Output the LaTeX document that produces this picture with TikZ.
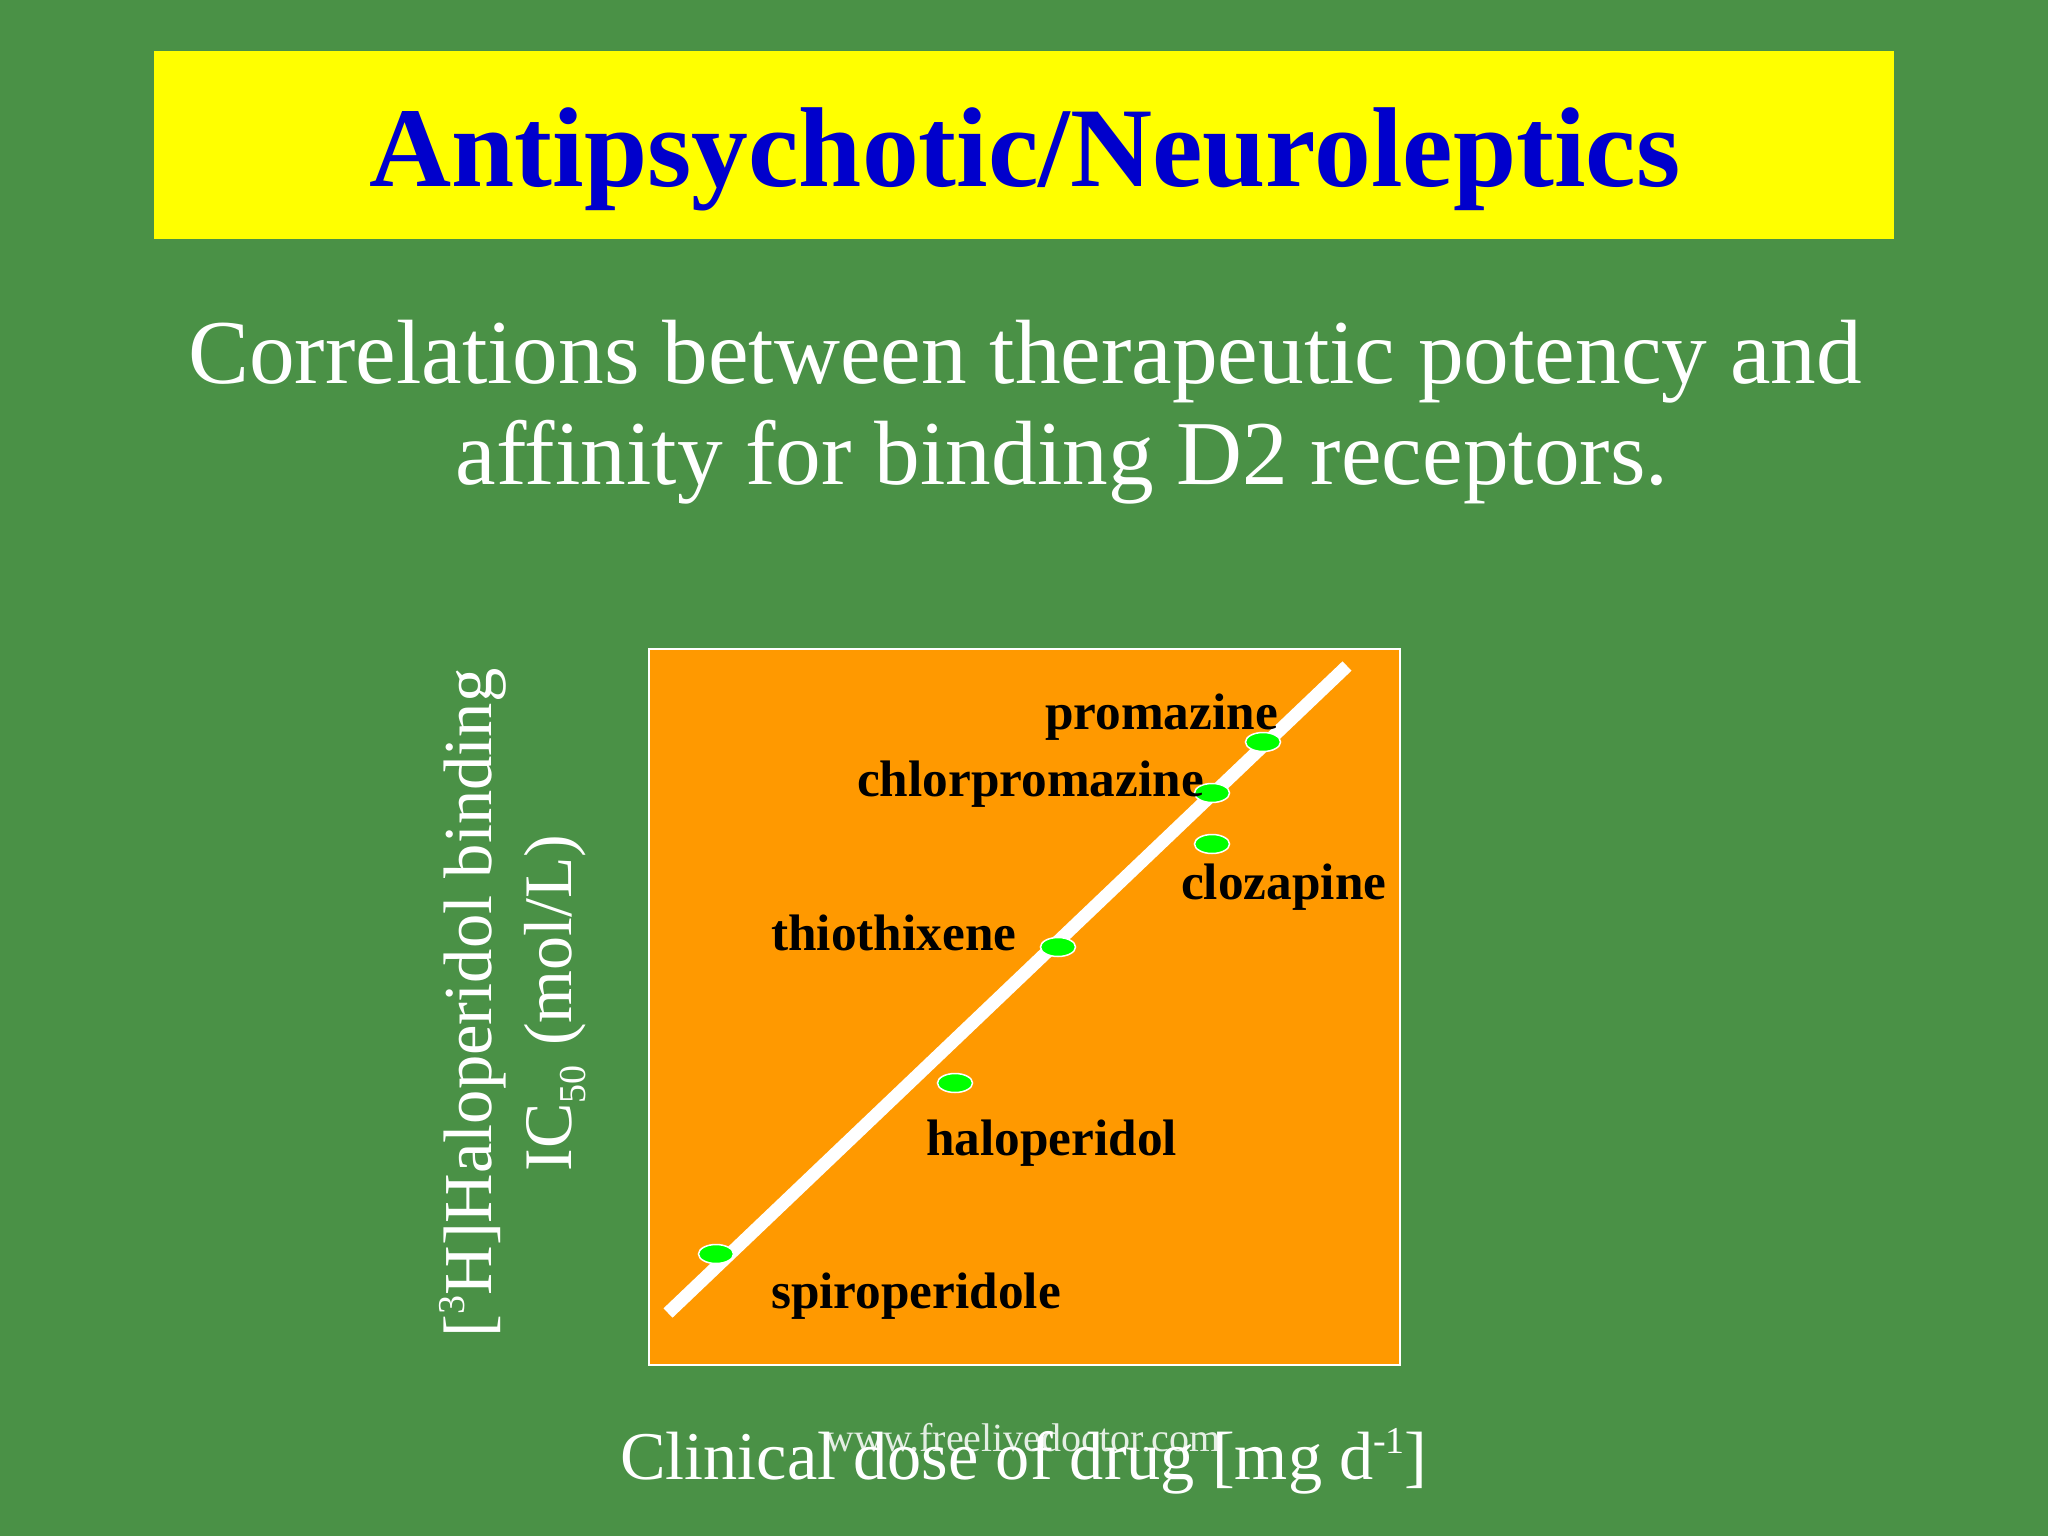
\documentclass[tikz,border=0pt]{standalone}
\usepackage{fontspec}
\setmainfont{Liberation Serif}
\definecolor{bggreen}{HTML}{4A9146}
\definecolor{titleblue}{HTML}{0000CC}
\definecolor{titleyellow}{HTML}{FFFF00}
\definecolor{plotorange}{HTML}{FF9900}
\definecolor{dotgreen}{HTML}{00FF00}
\tikzset{
  px/.style={x=1pt,y=-1pt},
  whitetext/.style={text=white,inner sep=0pt,align=center},
  druglabel/.style={text=black,inner sep=0pt,font=\fontsize{51.3}{54}\selectfont\bfseries,anchor=base west},
  dotmark/.style={ellipse,draw=white,line width=1.5pt,fill=dotgreen,minimum width=35pt,minimum height=19pt,inner sep=0pt},
}
\usetikzlibrary{shapes.geometric}
\begin{document}
\begin{tikzpicture}[px]
\useasboundingbox (0,0) rectangle (2048,1536);
\fill[bggreen] (0,0) rectangle (2048,1536);
\fill[titleyellow] (154,51) rectangle (1894,239);
\node[text=titleblue,inner sep=0pt,font=\fontsize{113.6}{116}\selectfont\bfseries,anchor=base] (title) at (1025,186) {Antipsychotic/Neuroleptics};
\node[whitetext,font=\fontsize{91.3}{102}\selectfont,anchor=base] (sub1) at (1025,383) {Correlations between therapeutic potency and};
\node[whitetext,font=\fontsize{91.3}{102}\selectfont,anchor=base] (sub2) at (1062,484) {affinity for binding D2 receptors.};
\node[draw=white,line width=2pt,fill=plotorange,minimum width=751pt,minimum height=716pt,inner sep=0pt] (plot) at (1024,1007) {};
\coordinate (lineA) at (668,1313);
\coordinate (lineB) at (1347,666);
\draw[white,line width=13pt] (lineA) -- (lineB);
\node[dotmark] (d1) at (1263,742) {};
\node[dotmark] (d2) at (1212,793) {};
\node[dotmark] (d3) at (1212,844) {};
\node[dotmark] (d4) at (1058,947) {};
\node[dotmark] (d5) at (955,1083) {};
\node[dotmark] (d6) at (716,1254) {};
\node[druglabel] (l1) at (1045,729) {promazine};
\node[druglabel] (l2) at (857,796) {chlorpromazine};
\node[druglabel] (l3) at (1181,899) {clozapine};
\node[druglabel] (l4) at (771,950) {thiothixene};
\node[druglabel] (l5) at (926,1155) {haloperidol};
\node[druglabel] (l6) at (771,1308) {spiroperidole};
\node[whitetext,font=\fontsize{68.6}{70}\selectfont,rotate=90,anchor=base] (yl1) at (491,1003) {[\raisebox{0.38em}{\fontsize{38}{38}\selectfont 3}H]Haloperidol binding};
\node[whitetext,font=\fontsize{68}{70}\selectfont,rotate=90,anchor=base] (yl2) at (571,1003) {IC\raisebox{-0.22em}{\fontsize{38}{38}\selectfont 50}\hspace{0.04em} (mol/L)};
\node[whitetext,font=\fontsize{68.3}{70}\selectfont,anchor=base] (xl) at (1024,1479) {Clinical dose of drug [mg d\raisebox{0.38em}{\fontsize{38}{38}\selectfont -1}]};
\node[whitetext,font=\fontsize{40}{42}\selectfont,anchor=base,text opacity=.85] (wm) at (1023,1451) {www.freelivedoctor.com};
\end{tikzpicture}
\end{document}
